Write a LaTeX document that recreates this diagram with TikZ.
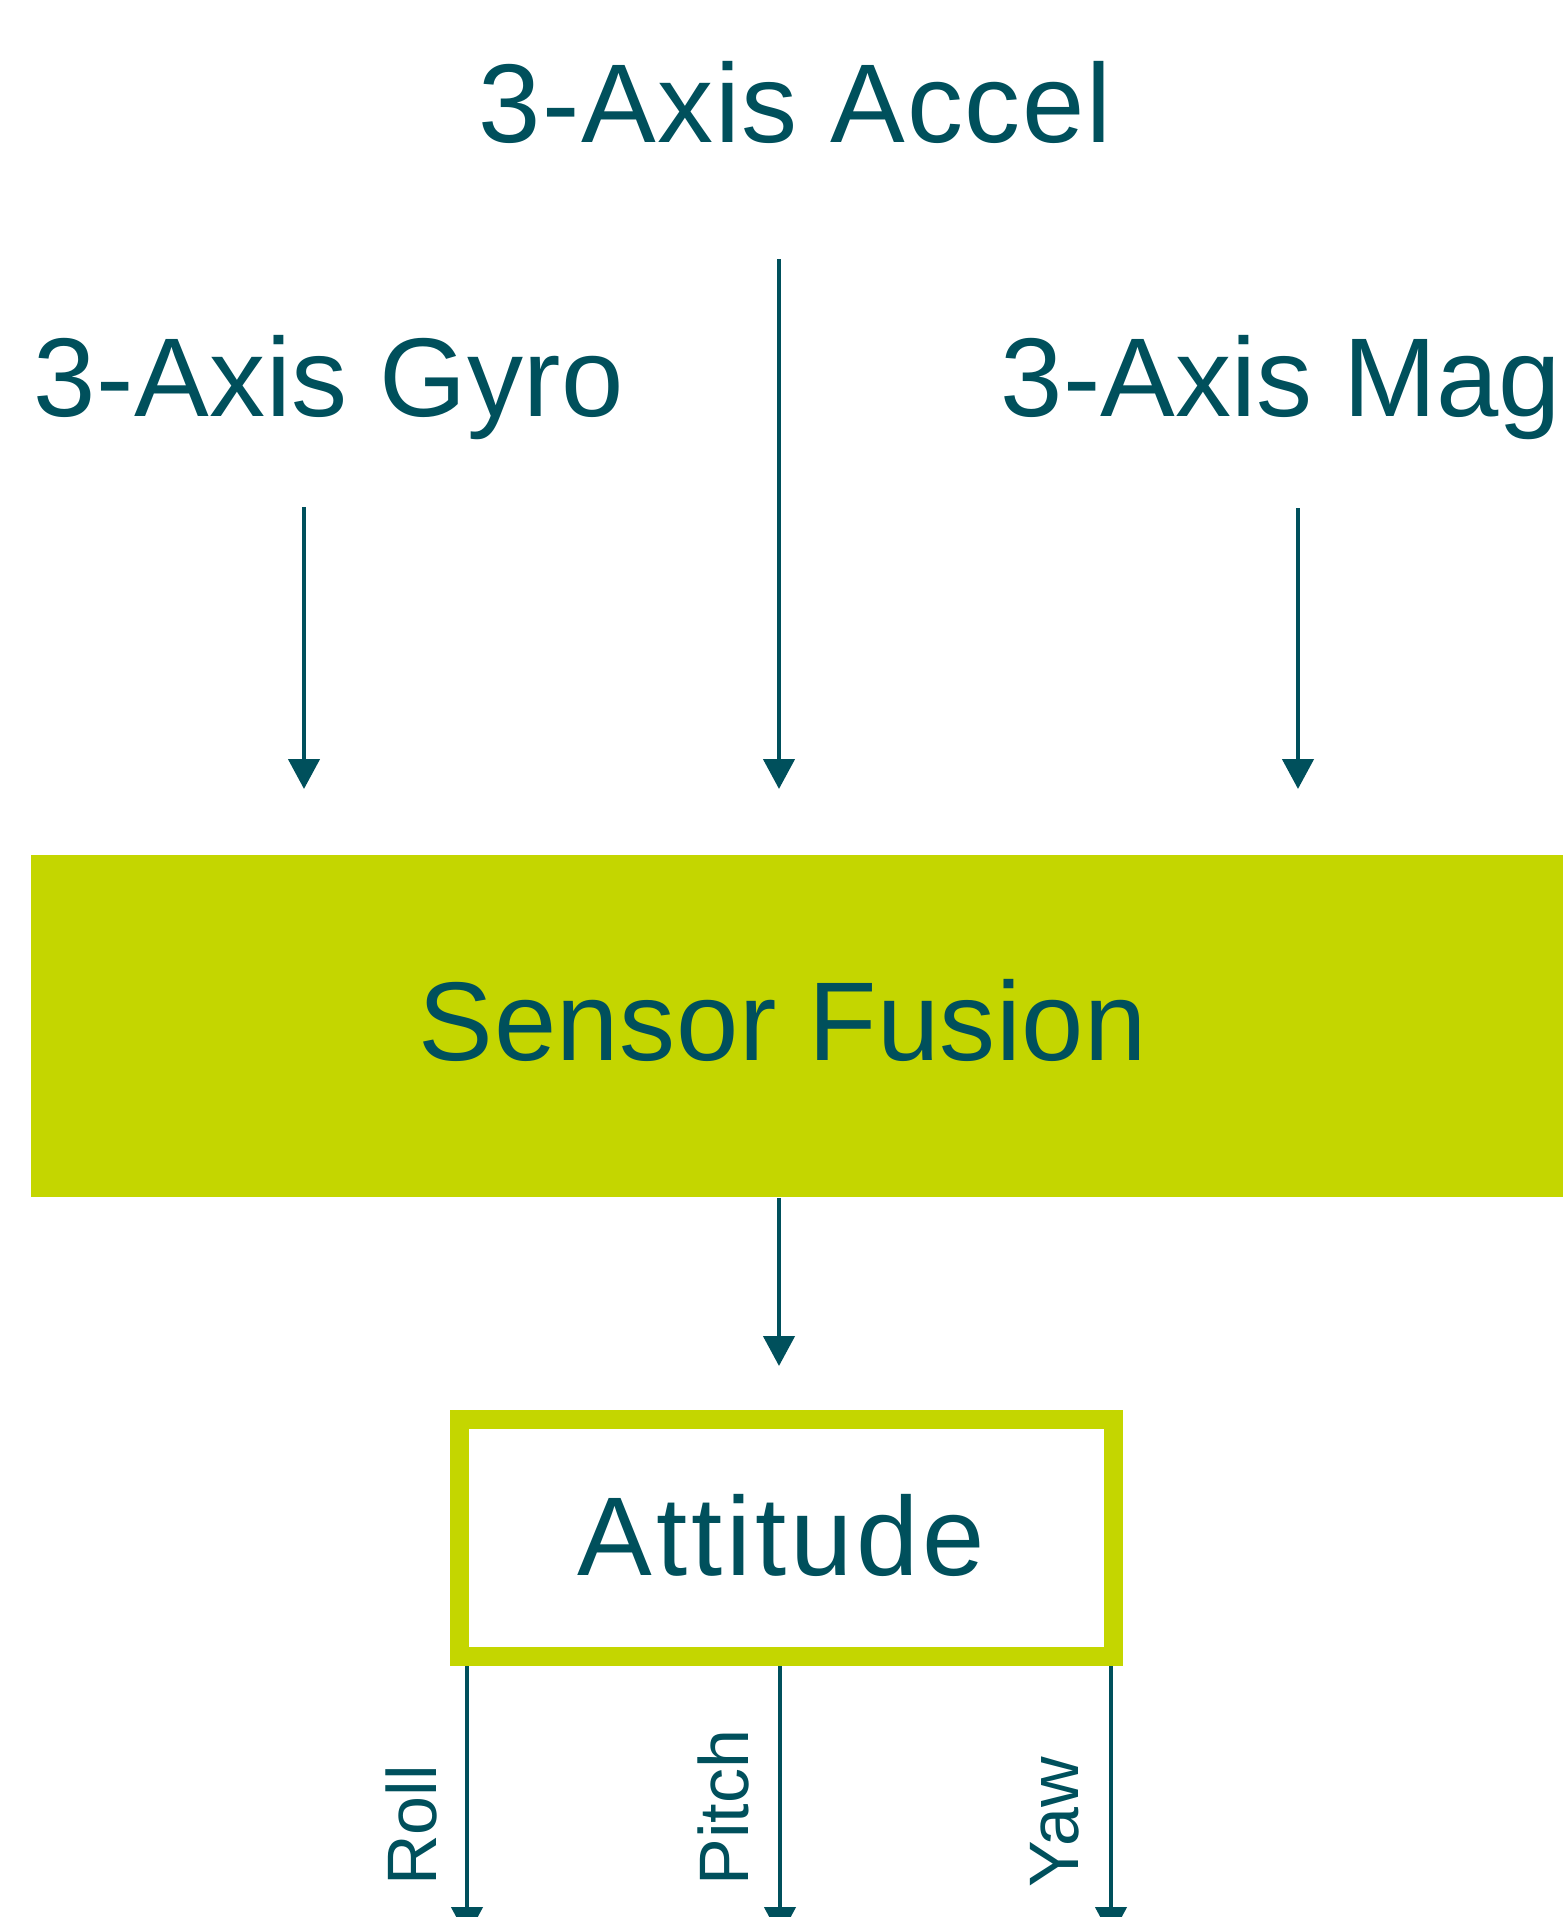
\documentclass[tikz,border=0pt]{standalone}
\usepackage{fontspec}
\setmainfont{Liberation Sans}
\usetikzlibrary{arrows.meta}
\definecolor{teal}{RGB}{0,80,92}
\definecolor{lime}{RGB}{196,214,0}
\newcommand{\lsp}[1]{\addfontfeatures{LetterSpace=#1}}
\tikzset{
  big/.style={inner sep=0pt, text=teal, font=\fontsize{56}{60}\selectfont},
  small/.style={inner sep=0pt, text=teal, font=\fontsize{35}{40}\selectfont, rotate=90, anchor=base west},
  arr/.style={draw=teal, line width=2.25pt, -{Triangle[width=15.5pt,length=15pt]}}
}
\begin{document}
\begin{tikzpicture}[x=0.5pt,y=-0.5pt]
\useasboundingbox (0,0) rectangle (1563,1917);
\clip (0,0) rectangle (1563,1917);
% sensor labels
\node[big, anchor=base] (accel) at (795,142) {\lsp{1.5}3-Axis Accel};
\node[big, anchor=base] (gyro) at (329,416) {\lsp{0.5}3-Axis Gyro};
\node[big, anchor=base] (mag) at (1281,416) {3-Axis Mag};
% fusion box
\node[fill=lime, inner sep=0pt, minimum width=766pt, minimum height=171pt, anchor=north west] (sf) at (31,855) {};
\node[big, anchor=base] (sflabel) at (783,1060) {\lsp{0.5}Sensor Fusion};
% attitude box
\node[draw=lime, line width=9.5pt, fill=white, inner sep=0pt, minimum width=327pt, minimum height=118.5pt] (att) at (786.5,1538) {};
\node[big, anchor=base] (attlabel) at (781.5,1575) {\lsp{3.5}Attitude};
% arrow coordinates
\coordinate (g0) at (304,507);  \coordinate (g1) at (304,789);
\coordinate (a0) at (779,259);  \coordinate (a1) at (779,789);
\coordinate (m0) at (1298,508); \coordinate (m1) at (1298,789);
\coordinate (s1) at (779,1366);
\coordinate (r1) at (467,1937);
\coordinate (p1) at (780,1937);
\coordinate (y1) at (1111,1937);
\draw[arr] (g0) -- (g1);
\draw[arr] (a0) -- (a1);
\draw[arr] (m0) -- (m1);
\draw[arr] (sf.south -| s1) -- (s1);
\draw[arr] (att.south -| r1) -- (r1);
\draw[arr] (att.south -| p1) -- (p1);
\draw[arr] (att.south -| y1) -- (y1);
% output labels
\node[small] (roll) at (436,1886) {Roll};
\node[small] (pitch) at (748,1886) {Pitch};
\node[small] (yaw) at (1078,1888) {Yaw};
\end{tikzpicture}
\end{document}
